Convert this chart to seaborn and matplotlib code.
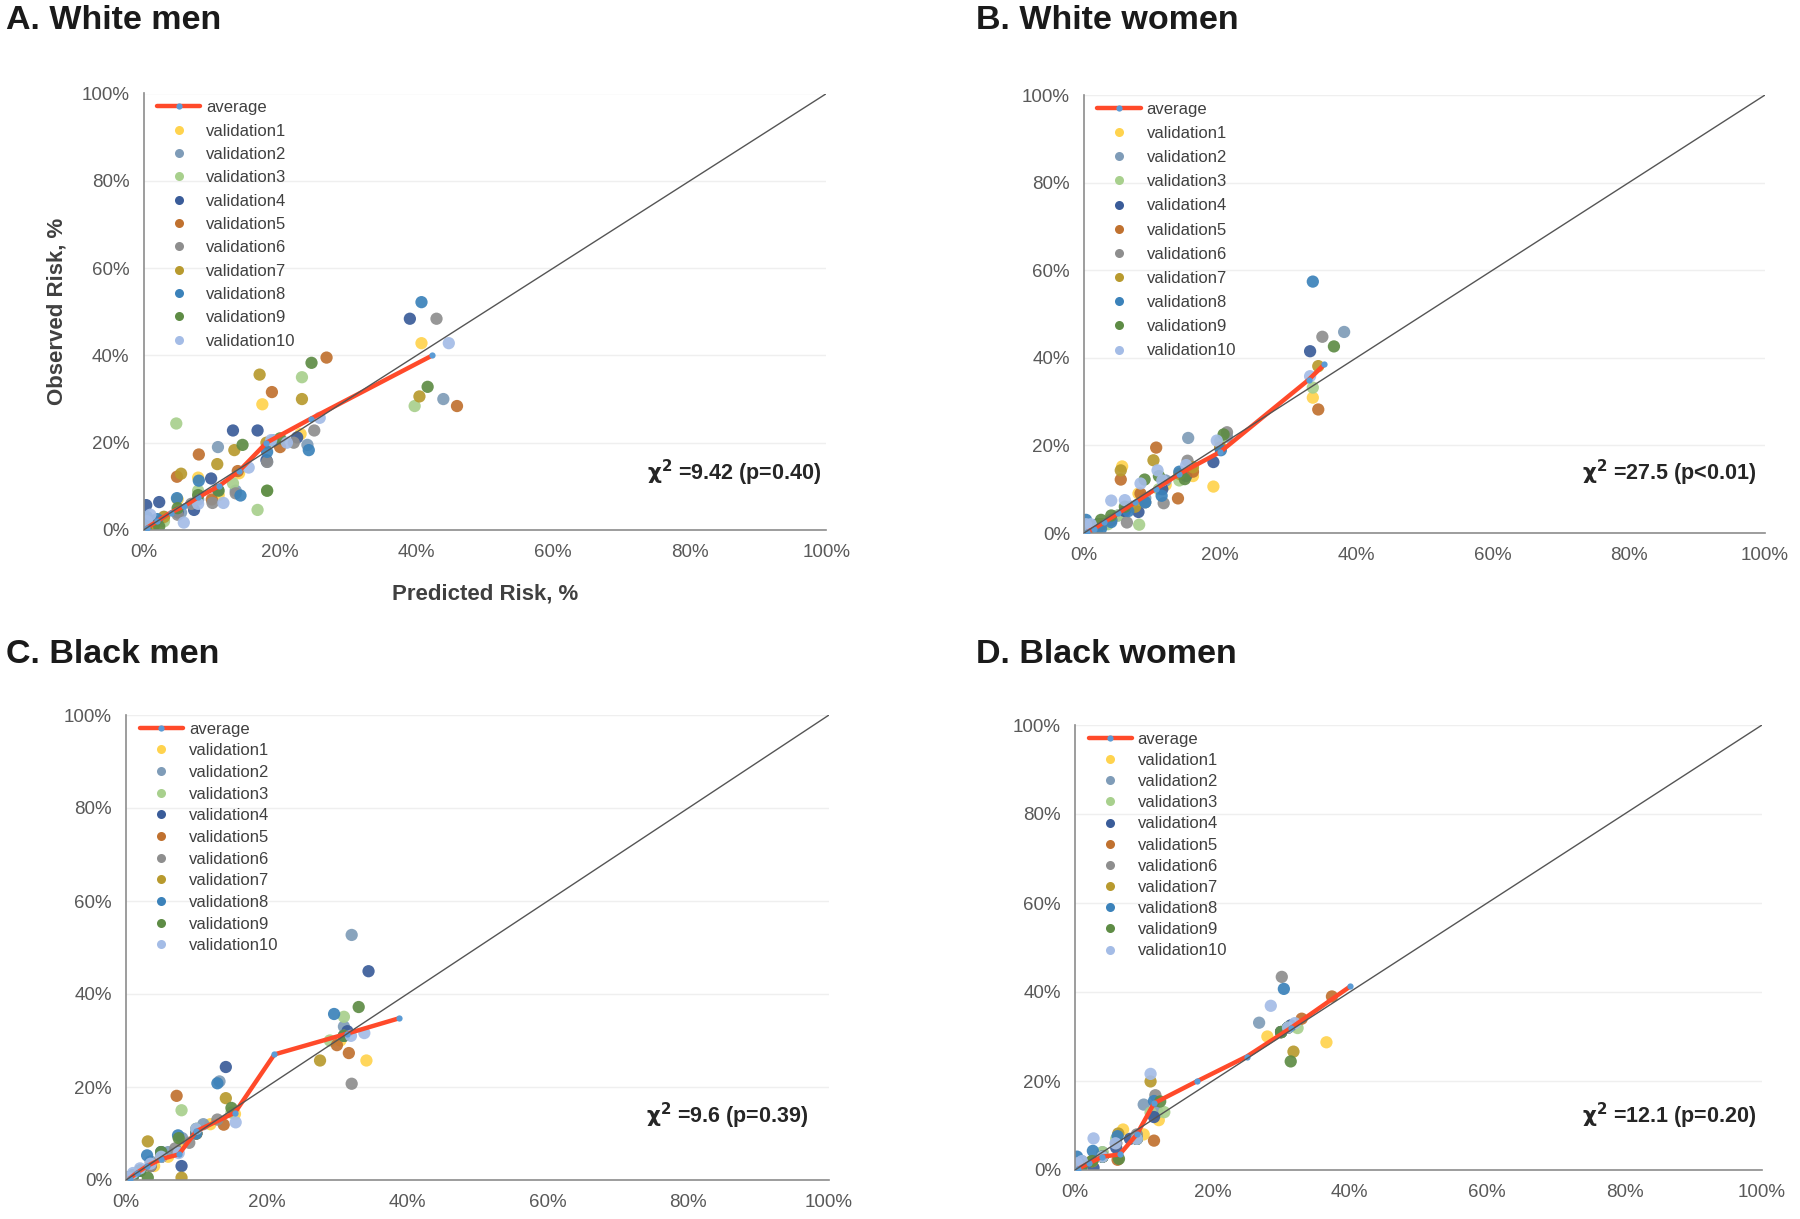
import numpy as np
import pandas as pd
import matplotlib
matplotlib.use("Agg")
import matplotlib.pyplot as plt
import seaborn as sns
from matplotlib.lines import Line2D

sns.set_theme(style="white")
plt.rcParams['font.family'] = ['Liberation Sans', 'DejaVu Sans']

series_names = [f"validation{i}" for i in range(1, 11)]
series_colors = ["#FFD34E", "#7F9CB8", "#A8D08D", "#3A5C99", "#C0712F",
                 "#8E8E8E", "#B89A2E", "#3B82BA", "#5E8C45", "#A4BCE6"]

panel_titles = ["A. White men", "B. White women", "C. Black men", "D. Black women"]
chi_texts = ["9.42 (p=0.40)", "27.5 (p<0.01)", "9.6 (p=0.39)", "12.1 (p=0.20)"]

# ---------------- Panel A: White men ----------------
a_x = [
    [0.3, 1, 2.5, 5, 8, 11, 14, 17.4, 23, 40.7],
    [0.4, 1.2, 3, 5.5, 8, 10.9, 13.5, 18.1, 24.0, 43.9],
    [0.3, 1, 3, 4.8, 8, 13.1, 16.7, 18.1, 23.2, 39.7],
    [0.4, 2.3, 5, 7.4, 9.9, 13.1, 16.7, 18, 22.5, 39.0],
    [0.3, 1.5, 4.9, 8.1, 10, 13.8, 18.8, 20, 26.8, 45.9],
    [0.5, 1.5, 5.0, 7, 10.1, 13.5, 18.1, 22, 25.0, 42.9],
    [0.3, 1.5, 3, 5.5, 10.8, 13.3, 17.0, 18, 23.2, 40.4],
    [0.5, 2, 4.9, 8.1, 10.9, 14.2, 18.1, 19, 24.2, 40.7],
    [0.3, 2.3, 5, 8, 11, 14.5, 18.1, 20, 24.6, 41.6],
    [0.5, 1, 5.9, 8, 11.7, 15.4, 18.7, 21, 25.8, 44.7],
]
a_y = [
    [0.5, 1.5, 2, 7, 12, 8, 13, 28.8, 22, 42.8],
    [0.8, 2, 3, 4, 7, 19, 9, 15.6, 19.5, 30],
    [0.3, 0.5, 2, 24.4, 9, 10.7, 4.6, 9, 35, 28.4],
    [5.7, 6.4, 4, 4.6, 11.8, 22.8, 22.8, 16, 21.2, 48.4],
    [0.5, 1, 12.2, 17.3, 7, 13.5, 31.6, 19, 39.5, 28.4],
    [1, 2, 3.5, 6, 6.2, 8.4, 15.6, 20, 22.8, 48.4],
    [0.5, 1, 3, 12.9, 15.1, 18.3, 35.6, 20, 30, 30.6],
    [3, 2.5, 7.3, 11.3, 9.2, 7.9, 17.9, 20.5, 18.3, 52.2],
    [0.3, 0.8, 5, 8, 9, 19.5, 9, 21, 38.3, 32.8],
    [2, 3.5, 1.7, 6, 6.2, 14.3, 20.6, 20, 25.7, 42.8],
]
a_avg_x = [0.5, 2, 4, 6, 8, 11, 14, 18, 24.5, 42.3]
a_avg_y = [0.5, 2, 4, 5.5, 7.5, 10, 13.5, 20, 25.5, 40]

# ---------------- Panel B: White women ----------------
b_x = [
    [0.3, 1, 2.5, 4, 5.6, 8, 12, 16, 19.0, 33.6],
    [0.4, 1.2, 3, 5, 7, 9, 12, 15.3, 21, 38.2],
    [0.3, 1, 2, 3.5, 5, 8.1, 11, 14, 20, 33.6],
    [0.3, 1, 2, 4, 6, 8, 11.5, 15, 19.0, 33.2],
    [0.3, 1, 2.5, 5.4, 8.3, 10.6, 13.8, 16, 20, 34.4],
    [0.3, 1, 2.5, 4, 6.3, 9, 11.7, 15.2, 21, 35.0],
    [0.3, 1, 2.5, 5.4, 7.5, 10.2, 14, 16, 20, 34.4],
    [0.3, 1, 2.5, 4, 6.5, 9, 11.4, 14, 20.1, 33.6],
    [0.3, 1, 2.5, 4, 6, 8.9, 11, 14.8, 20.5, 36.7],
    [0.3, 1, 4.0, 6, 8.3, 10.8, 11.5, 15, 19.5, 33.2],
]
b_y = [
    [0.3, 1, 2, 3, 15.2, 9, 11, 13, 10.6, 30.9],
    [0.5, 1.5, 2, 4, 6, 8, 12, 21.7, 22, 45.9],
    [0.2, 0.8, 1, 2, 4, 1.9, 10, 12, 21, 33.2],
    [0.5, 1, 2, 3, 5, 4.8, 10, 13, 16.2, 41.5],
    [0.3, 1, 2, 12.2, 9, 19.5, 7.9, 14, 19.5, 28.2],
    [0.3, 1, 2, 3, 2.4, 7, 6.8, 16.5, 23, 44.8],
    [0.3, 1, 2, 14.3, 6, 16.6, 13.5, 15, 19.5, 38.1],
    [3, 1.5, 1, 2.5, 5, 7, 8.5, 14, 18.9, 57.4],
    [0.3, 1.5, 3, 4, 6, 12.2, 13, 12.3, 22.5, 42.6],
    [2, 2, 7.4, 7.5, 11.3, 14.3, 12, 15.5, 21.1, 35.8],
]
b_avg_x = [0.5, 1.5, 3, 5, 7.5, 10.5, 14, 20, 33, 35.3]
b_avg_y = [0.3, 1, 2.5, 4.5, 7, 10, 13.5, 18.5, 35, 38.5]

# ---------------- Panel C: Black men ----------------
c_x = [
    [0.3, 1, 2, 4, 6, 8, 12, 15.5, 30.5, 34.2],
    [0.3, 1, 2, 3.5, 6, 8, 11, 13.3, 31, 32.1],
    [0.3, 1, 2, 3.5, 5, 7.9, 10, 15, 29, 31.0],
    [0.3, 1, 2, 3.5, 5, 7.9, 10, 14.2, 31.5, 34.5],
    [0.3, 1, 2, 3.5, 5, 7.2, 10, 13.9, 30, 31.7],
    [0.3, 1, 2, 3.5, 5, 7, 9, 13, 31, 32.1],
    [0.3, 1, 2, 3.1, 5, 7.9, 10, 14.2, 27.6, 31],
    [0.3, 1, 2, 3.0, 5, 7.4, 10, 13.0, 29.6, 31],
    [0.3, 1, 2, 3.1, 5, 7.5, 10, 15, 31, 33.1],
    [0.3, 1, 2, 3.5, 5, 7.5, 10, 15.6, 32, 33.9],
]
c_y = [
    [0.5, 1, 2, 3, 5, 8, 12, 14.2, 30, 25.7],
    [0.5, 1, 2, 4, 6, 9, 12, 21.2, 33, 52.7],
    [0.3, 1, 2, 3, 5, 15.0, 10, 14.5, 30, 35.1],
    [0.5, 1, 2, 3, 5, 3, 10, 24.3, 32, 44.9],
    [0.3, 1, 2, 3, 5, 18.1, 10, 11.9, 29, 27.3],
    [0.3, 1, 2, 3, 6, 6.8, 8, 13, 31, 20.7],
    [0.3, 1, 2, 8.3, 5, 0.5, 10, 17.6, 25.7, 31],
    [0.5, 1, 2, 5.3, 6, 9.6, 10, 20.8, 35.7, 31],
    [0.3, 1, 2, 0.5, 6, 9, 11, 15.5, 31, 37.2],
    [0.5, 1.5, 2.5, 3.5, 5, 5.8, 11, 12.4, 31, 31.6],
]
c_avg_x = [0.5, 1.5, 3, 5, 7.5, 10, 15.5, 21.1, 31.5, 38.9]
c_avg_y = [0.3, 1.5, 3, 4.5, 5.5, 10.5, 14.5, 27, 31.5, 34.8]

# ---------------- Panel D: Black women ----------------
d_x = [
    [0.3, 1, 2.5, 4, 7.0, 10, 12.2, 28, 30, 36.6],
    [0.3, 1, 2.5, 4, 6, 10.0, 12, 26.8, 30, 31],
    [0.3, 1, 2.5, 4, 6, 11, 13, 30, 31, 32.4],
    [0.3, 1, 2.7, 4, 6, 8, 11.5, 30, 31, 31.4],
    [0.3, 1, 2.5, 4, 6.2, 9, 11.5, 30, 33, 37.4],
    [0.3, 1, 2.5, 4, 6, 9, 11.7, 30, 31, 30.1],
    [0.3, 1, 2.5, 4, 6.3, 9, 11.0, 30, 31, 31.8],
    [0.3, 1, 2.6, 4, 6.2, 9, 11.5, 30, 31, 30.4],
    [0.3, 1, 2.5, 4, 6.4, 9, 12.4, 30, 31, 31.4],
    [0.3, 1, 2.7, 4, 5.9, 9, 11.0, 28.5, 31, 32],
]
d_y = [
    [0.3, 1, 2, 3, 9.1, 8, 11.2, 30, 31, 28.7],
    [0.5, 2, 2, 4, 6, 14.7, 13, 33.1, 31, 32],
    [0.3, 1, 2, 4, 7, 12.9, 13, 31, 32, 31.9],
    [0.3, 1, 0.5, 3, 5, 7, 11.9, 31, 32, 32.5],
    [0.3, 1, 2, 3, 2.3, 7, 6.6, 31, 34, 39.0],
    [0.3, 1, 2, 3, 6, 8, 16.8, 31, 32, 43.4],
    [0.3, 1, 2, 3, 8.2, 7, 19.9, 31, 32, 26.6],
    [3, 1, 4.3, 3, 7.6, 7, 15.5, 31, 32, 40.7],
    [0.3, 1, 2, 3, 2.5, 7, 15.4, 31, 32, 24.4],
    [1.5, 2, 7.1, 3, 6, 7, 21.6, 36.9, 32, 33],
]
d_avg_x = [0.5, 2, 4, 6.5, 9, 11.5, 17.7, 25, 31.5, 40.1]
d_avg_y = [0.3, 1.5, 3, 3.5, 8, 15, 19.9, 25.5, 32, 41.3]

panels = [
    (a_x, a_y, a_avg_x, a_avg_y),
    (b_x, b_y, b_avg_x, b_avg_y),
    (c_x, c_y, c_avg_x, c_avg_y),
    (d_x, d_y, d_avg_x, d_avg_y),
]

W, H = 1800, 1219
fig = plt.figure(figsize=(W / 100, H / 100), dpi=100)

# axes boxes in pixels: (left, top, right, bottom)
boxes = [(143.5, 93.5, 826.5, 530), (1084, 95, 1765, 533),
         (126, 715, 829, 1180), (1075, 725, 1762, 1170)]
chi_pos = [(0.992, 0.096), (0.987, 0.103), (0.97, 0.105), (0.991, 0.088)]
title_pos = [(6, 5), (976, 5), (6, 639), (976, 639)]
leg_spacing = [0.5, 0.55, 0.4, 0.37]

tick_col = "#595959"
spine_col = "#8C8C8C"

for i, (xs, ys, avx, avy) in enumerate(panels):
    l, t, r, b = boxes[i]
    ax = fig.add_axes([l / W, 1 - b / H, (r - l) / W, (b - t) / H])
    rows = []
    for name, sx, sy in zip(series_names, xs, ys):
        for xv, yv in zip(sx, sy):
            rows.append((name, xv, yv))
    df = pd.DataFrame(rows, columns=["series", "pred", "obs"])
    sns.scatterplot(data=df, x="pred", y="obs", hue="series",
                    hue_order=series_names, palette=series_colors,
                    s=78, linewidth=0, alpha=0.92, legend=False, ax=ax, zorder=2)
    avg_df = pd.DataFrame({"pred": avx, "obs": avy})
    sns.lineplot(data=avg_df, x="pred", y="obs", color="#FF4A2A", lw=3.2,
                 marker="o", markersize=4.5, markerfacecolor="#5B9BD5",
                 markeredgewidth=0, sort=False, ax=ax, zorder=3)
    ax.plot([0, 100], [0, 100], color="#555555", lw=1.0, zorder=4)

    ax.set_xlim(0, 100)
    ax.set_ylim(0, 100)
    ticks = np.arange(0, 101, 20)
    ax.set_xticks(ticks)
    ax.set_yticks(ticks)
    ax.set_xticklabels([f"{v}%" for v in ticks])
    ax.set_yticklabels([f"{v}%" for v in ticks])
    ax.tick_params(axis="both", direction="out", length=4, width=1,
                   color=spine_col, labelcolor=tick_col, labelsize=13.5, pad=6)
    ax.yaxis.grid(True, color="#EFEFEF", lw=1)
    ax.xaxis.grid(False)
    ax.set_axisbelow(True)
    for side in ["top", "right"]:
        ax.spines[side].set_visible(False)
    for side in ["left", "bottom"]:
        ax.spines[side].set_color(spine_col)
        ax.spines[side].set_linewidth(1.2)

    if i == 0:
        ax.set_xlabel("Predicted Risk, %", fontsize=16, fontweight="bold",
                      color="#404040", labelpad=16)
        ax.set_ylabel("Observed Risk, %", fontsize=16, fontweight="bold",
                      color="#404040", labelpad=10)
    else:
        ax.set_xlabel("")
        ax.set_ylabel("")

    cx, cy = chi_pos[i]
    ax.text(cx, cy, r"$\mathbf{\chi^2}$ =" + chi_texts[i], transform=ax.transAxes,
            ha="right", va="bottom", fontsize=15.5, fontweight="bold",
            color="#262626")

    handles = [Line2D([0], [0], color="#FF4A2A", lw=3.2, marker="o",
                      markersize=4.5, markerfacecolor="#5B9BD5",
                      markeredgewidth=0)]
    for c in series_colors:
        handles.append(Line2D([0], [0], linestyle="none", marker="o",
                              markersize=6.5, markerfacecolor=c,
                              markeredgewidth=0))
    ax.legend(handles, ["average"] + series_names, loc="upper left",
              bbox_to_anchor=(0.01, 1.0), frameon=False, fontsize=12,
              handlelength=2.6, handletextpad=0.35,
              labelspacing=leg_spacing[i], labelcolor="#404040",
              borderaxespad=0.0)

    tx, ty = title_pos[i]
    fig.text(tx / W, 1 - ty / H, panel_titles[i], ha="left", va="top",
             fontsize=24.5, fontweight="bold", color="#1a1a1a")

fig.savefig("out.png", dpi=100)
